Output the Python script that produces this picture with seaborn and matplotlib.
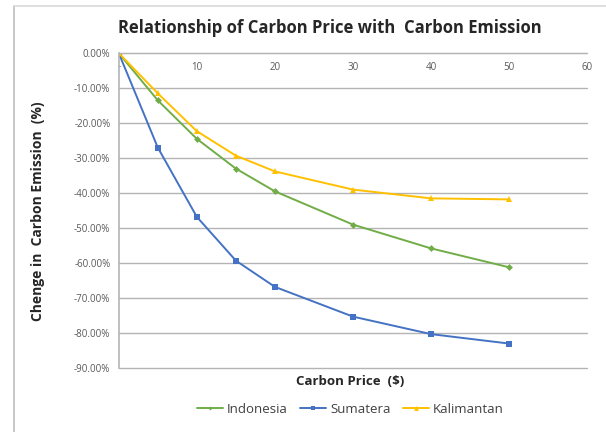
import pandas as pd
import matplotlib
matplotlib.use("Agg")
import matplotlib.pyplot as plt
import matplotlib.ticker as mticker
from matplotlib.lines import Line2D
import seaborn as sns

# datos (% de cambio de emisiones)
carbon_price = [0, 5, 10, 15, 20, 30, 40, 50]
indonesia = [0.0, -13.5, -24.5, -33.0, -39.5, -49.0, -55.8, -61.2]
sumatera = [0.0, -27.0, -46.8, -59.3, -66.8, -75.3, -80.3, -83.0]
kalimantan = [0.0, -11.5, -22.3, -29.3, -33.8, -39.0, -41.5, -41.8]

series = ["Indonesia", "Sumatera", "Kalimantan"]
colors = {"Indonesia": "#70ad47", "Sumatera": "#4472c4", "Kalimantan": "#ffc000"}
markers = {"Indonesia": "D", "Sumatera": "s", "Kalimantan": "^"}
sizes = {"Indonesia": 3.5, "Sumatera": 5, "Kalimantan": 5}

df = pd.DataFrame({
    "price": carbon_price * 3,
    "value": indonesia + sumatera + kalimantan,
    "region": sum([[s] * len(carbon_price) for s in series], []),
})

sns.set_style("white")
plt.rcParams["font.family"] = ["Open Sans", "DejaVu Sans"]

fig = plt.figure(figsize=(6.06, 4.32), dpi=100)
ax = fig.add_axes([0.196, 0.148, 0.773, 0.729])

# marco exterior del grafico
fig.add_artist(Line2D([0.023, 0.023], [0, 0.985], color="#bfbfbf", lw=1.2))
fig.add_artist(Line2D([0.023, 1.0], [0.985, 0.985], color="#d9d9d9", lw=1.2))

for s in series:
    sub = df[df["region"] == s]
    sns.lineplot(data=sub, x="price", y="value", ax=ax, color=colors[s],
                 marker=markers[s], markersize=sizes[s], markeredgewidth=0,
                 linewidth=1.4, label=s, legend=False)

ax.set_xlim(0, 60)
ax.set_ylim(-90, 0)
ax.set_xticks([0, 10, 20, 30, 40, 50, 60])
ax.xaxis.set_major_formatter(mticker.FuncFormatter(lambda v, p: "-" if v == 0 else f"{v:.0f}"))
ax.set_yticks(range(-90, 1, 10))
ax.yaxis.set_major_formatter(mticker.FuncFormatter(lambda v, p: f"{v:.2f}%"))
ax.grid(axis="y", color="#b4b4b4", linewidth=1)
ax.grid(axis="x", visible=False)
ax.set_axisbelow(True)
for gl in ax.get_ygridlines():
    gl.set_clip_on(False)

for side in ["right", "bottom"]:
    ax.spines[side].set_visible(False)
ax.spines["top"].set_color("#b4b4b4")
ax.spines["left"].set_color("#b4b4b4")
ax.spines["left"].set_linewidth(1.2)

ax.tick_params(axis="x", top=False, labeltop=True, bottom=False, labelbottom=False,
               pad=-14, length=0, labelsize=7, labelcolor="#595959")
ax.tick_params(axis="y", length=0, labelsize=7, labelcolor="#595959", pad=6)

ax.set_xlabel("")
ax.set_ylabel("")
fig.text(0.545, 0.935, "Relationship of Carbon Price with  Carbon Emission",
         ha="center", va="center", fontsize=12, fontweight="bold", color="#262626")
fig.text(0.062, 0.51, "Chenge in  Carbon Emission  (%)", rotation=90,
         ha="center", va="center", fontsize=10, fontweight="bold", color="#262626")
fig.text(0.578, 0.118, "Carbon Price  ($)", ha="center", va="center",
         fontsize=9.5, fontweight="bold", color="#262626")

handles = [Line2D([], [], color=colors[s], marker=markers[s], markersize=sizes[s] - 1.5,
                  markeredgewidth=0, linewidth=1.4) for s in series]
fig.legend(handles, series, loc="center", bbox_to_anchor=(0.578, 0.052), ncol=3,
           frameon=False, fontsize=9.5, handlelength=2.0, handletextpad=0.3,
           columnspacing=0.9, labelcolor="#404040")

fig.savefig("out.png", dpi=100)
